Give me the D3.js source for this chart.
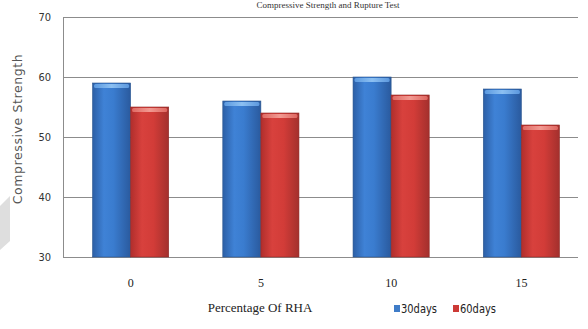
<!DOCTYPE html>
<html>
<head>
<meta charset="utf-8">
<script src="https://cdn.jsdelivr.net/npm/d3@7"></script>
<style>
  html, body { margin: 0; padding: 0; background: #fff; }
  svg { display: block; }
</style>
</head>
<body>
<svg id="chart" width="588" height="329"></svg>
<script>
// Compressive strength by RHA replacement level
const categories = ["0", "5", "10", "15"];
const seriesNames = ["30days", "60days"];
const days30 = [59, 56, 60, 58];
const days60 = [55, 54, 57, 52];
const yTicks = [30, 40, 50, 60, 70];

const svg = d3.select("#chart");
const plot = { left: 63, right: 578, top: 17, bottom: 257 };

const y = d3.scaleLinear().domain([30, 70]).range([plot.bottom, plot.top]);
const x = d3.scaleBand().domain(categories).range([65.5, 586.5]).paddingInner(0).paddingOuter(0);
const xs = d3.scaleBand().domain(seriesNames).range([0, x.bandwidth()]).paddingInner(0).paddingOuter(0.71);

const defs = svg.append("defs");
function grad(id, stops) {
  const g = defs.append("linearGradient").attr("id", id).attr("x1", "0").attr("x2", "1").attr("y1", "0").attr("y2", "0");
  stops.forEach(([o, c]) => g.append("stop").attr("offset", o).attr("stop-color", c));
}
grad("gBlue", [[0, "#2c5fa6"], [0.3, "#3f82d6"], [0.55, "#3a7ccf"], [1, "#2a5a9e"]]);
grad("gRed", [[0, "#b02e2c"], [0.3, "#d8413d"], [0.6, "#d23c38"], [1, "#a3302d"]]);
grad("gBlueTop", [[0, "#5c9ae0"], [0.5, "#8cc0f2"], [1, "#5c98de"]]);
grad("gRedTop", [[0, "#e06a64"], [0.5, "#f29a92"], [1, "#de6660"]]);

// decorative gray wedge on the left edge
svg.append("polygon")
  .attr("points", "0,206 10,196 10,241 0,250")
  .attr("fill", "#dedede");

// title line at the top
svg.append("text")
  .attr("x", 328).attr("y", 8)
  .attr("text-anchor", "middle")
  .attr("font-family", "Liberation Serif")
  .attr("font-size", 9)
  .attr("fill", "#333")
  .text("Compressive Strength and Rupture Test");

// gridlines
svg.append("g").selectAll("line")
  .data(yTicks)
  .join("line")
  .attr("x1", plot.left).attr("x2", plot.right)
  .attr("y1", d => Math.round(y(d)) + 0.5).attr("y2", d => Math.round(y(d)) + 0.5)
  .attr("stroke", "#8c8c8c").attr("stroke-width", 1);

// left axis line
svg.append("line")
  .attr("x1", plot.left + 0.5).attr("x2", plot.left + 0.5)
  .attr("y1", plot.top).attr("y2", plot.bottom + 1)
  .attr("stroke", "#8c8c8c");

// y tick labels
const yAxis = d3.axisLeft(y).tickValues(yTicks).tickSize(0).tickPadding(12);
const yg = svg.append("g").attr("transform", `translate(${plot.left},0)`).call(yAxis);
yg.select(".domain").remove();
yg.selectAll("text")
  .attr("font-family", "Liberation Sans Narrow, DejaVu Sans Condensed")
  .attr("font-size", 11)
  .attr("fill", "#333");

// bars
const rows = categories.map((c, i) => ({ c, vals: [days30[i], days60[i]] }));
const barFill = ["url(#gBlue)", "url(#gRed)"];
const topFill = ["url(#gBlueTop)", "url(#gRedTop)"];
const edge = ["#2b568f", "#8f2a27"];
const groups = svg.append("g").selectAll("g")
  .data(rows).join("g")
  .attr("transform", d => `translate(${x(d.c)},0)`);
seriesNames.forEach((s, k) => {
  groups.append("rect")
    .attr("x", xs(s))
    .attr("y", d => y(d.vals[k]))
    .attr("width", xs.bandwidth())
    .attr("height", d => plot.bottom - y(d.vals[k]))
    .attr("fill", barFill[k])
    .attr("stroke", edge[k]).attr("stroke-width", 0.6);
  groups.append("rect")
    .attr("x", d => xs(s) + 1.5)
    .attr("y", d => y(d.vals[k]) + 1)
    .attr("width", xs.bandwidth() - 3)
    .attr("height", 4)
    .attr("rx", 1.5)
    .attr("fill", topFill[k]);
});

// x tick labels
const xAxis = d3.axisBottom(x).tickSize(0).tickPadding(21);
const xg = svg.append("g").attr("transform", `translate(0,${plot.bottom})`).call(xAxis);
xg.select(".domain").remove();
xg.selectAll("text")
  .attr("font-family", "Liberation Serif")
  .attr("font-size", 12)
  .attr("fill", "#222");

// axis titles
svg.append("text")
  .attr("x", 260).attr("y", 312)
  .attr("text-anchor", "middle")
  .attr("font-family", "Liberation Serif")
  .attr("font-size", 13)
  .attr("fill", "#222")
  .text("Percentage Of RHA");

svg.append("text")
  .attr("transform", "translate(22,129) rotate(-90)")
  .attr("text-anchor", "middle")
  .attr("font-family", "DejaVu Sans")
  .attr("font-size", 12.5)
  .attr("letter-spacing", 0.6)
  .attr("fill", "#555")
  .text("Compressive Strength");

// legend
const legend = svg.append("g").attr("transform", "translate(394,305)");
const legX = [0, 59];
const legColor = ["#3f7cc8", "#cc3a36"];
seriesNames.forEach((s, k) => {
  legend.append("rect").attr("x", legX[k]).attr("y", 0).attr("width", 6).attr("height", 7).attr("fill", legColor[k]);
  legend.append("text")
    .attr("x", legX[k] + 7).attr("y", 8)
    .attr("font-family", "Liberation Sans Narrow, DejaVu Sans Condensed")
    .attr("font-size", 11.5)
    .attr("textLength", 36)
    .attr("lengthAdjust", "spacingAndGlyphs")
    .attr("fill", "#222")
    .text(s);
});
</script>
</body>
</html>
